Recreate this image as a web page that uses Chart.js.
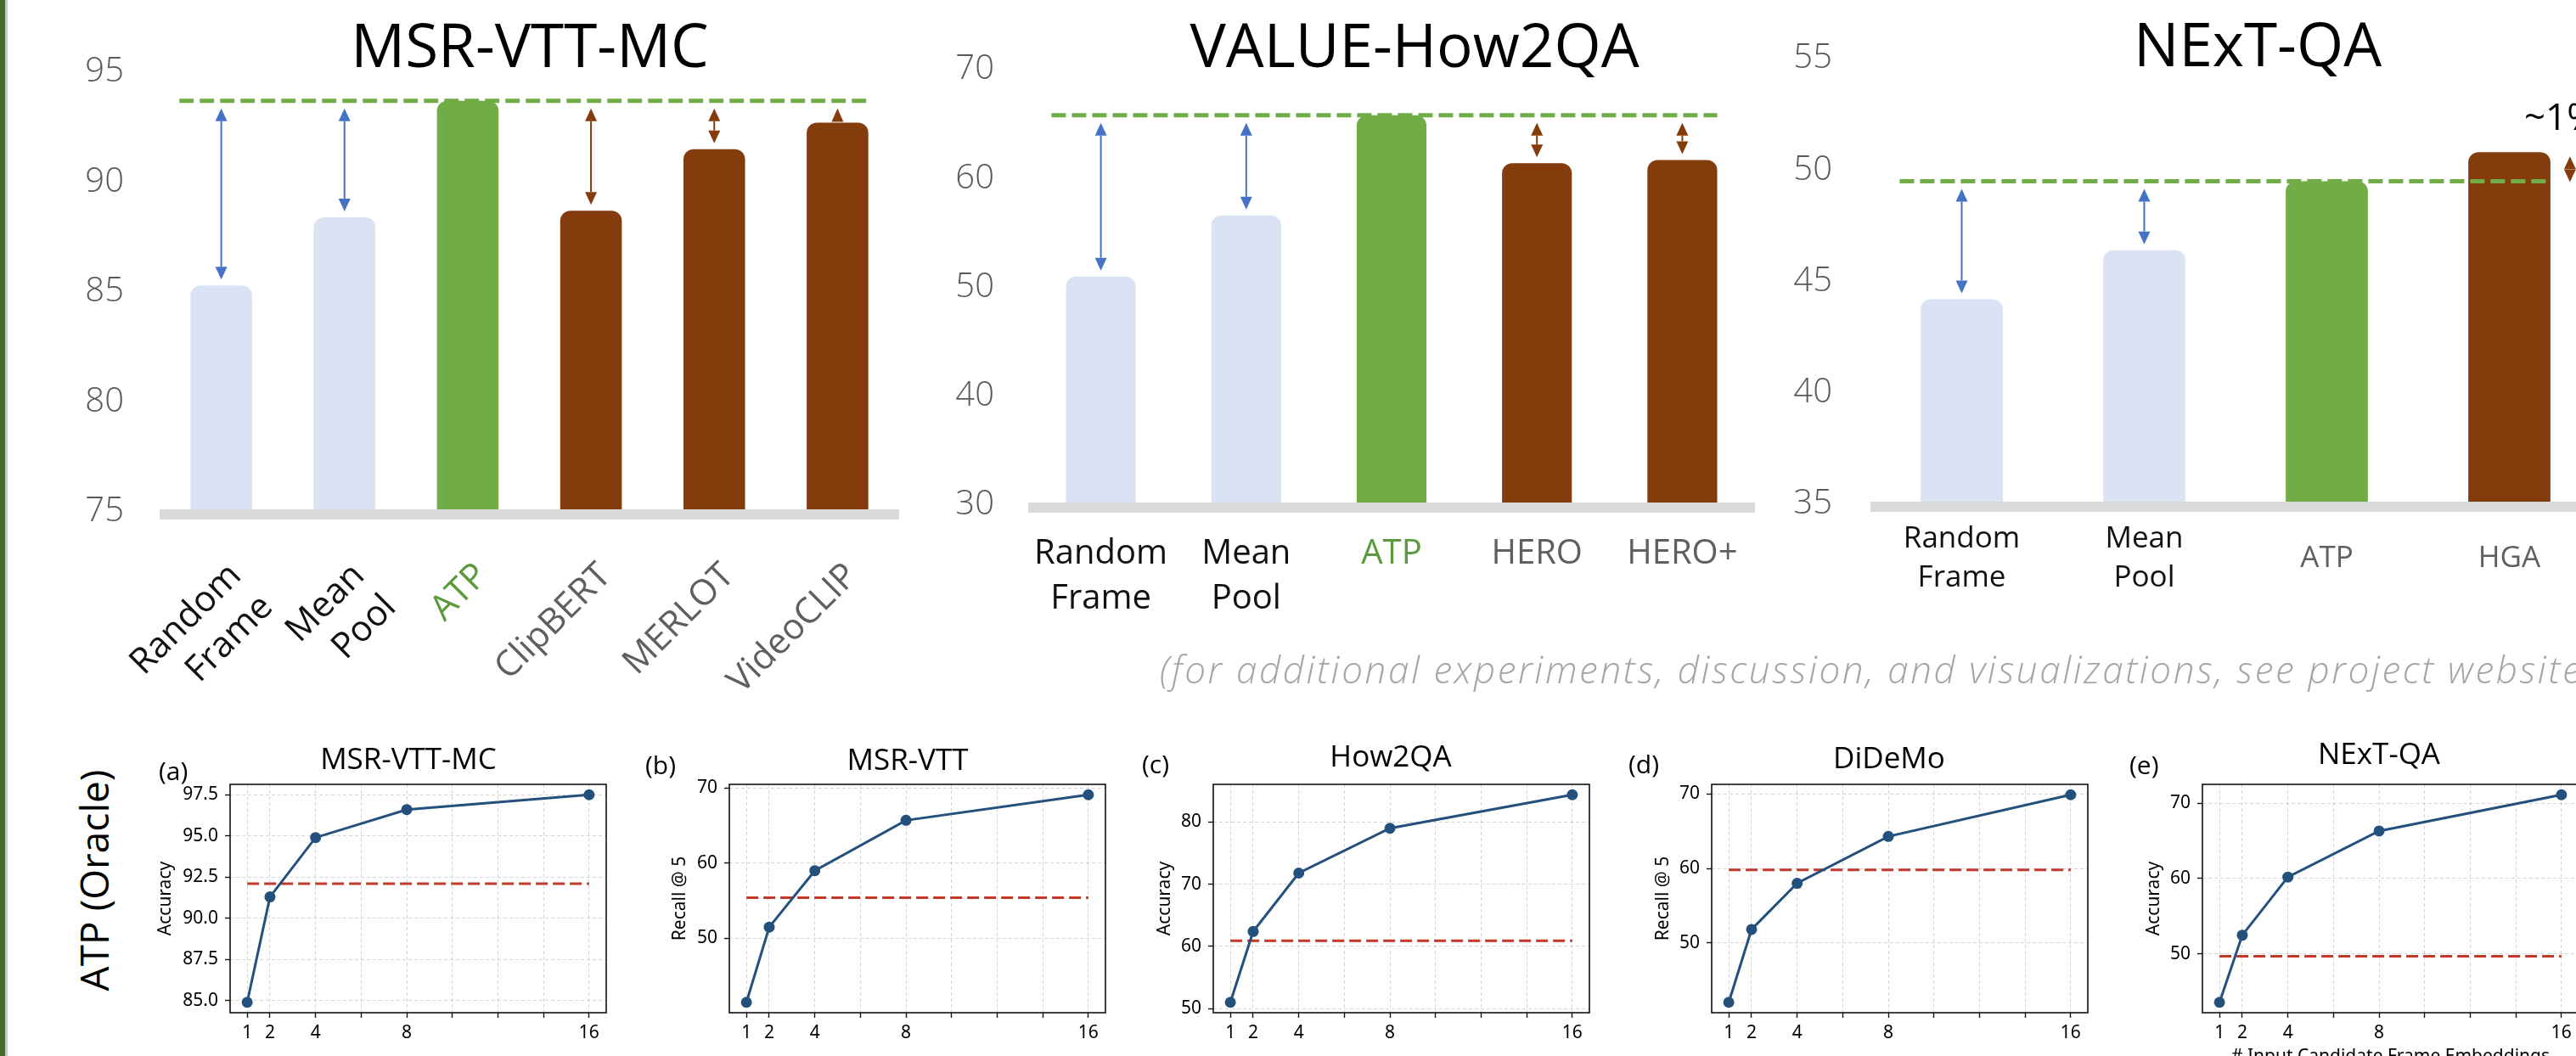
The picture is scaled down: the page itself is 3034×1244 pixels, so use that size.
<!DOCTYPE html>
<html>
<head>
<meta charset="utf-8">
<title>ATP - atemporal probe results</title>
<script src="https://cdn.jsdelivr.net/npm/chart.js@4.4.1/dist/chart.umd.min.js"></script>
<style>
    html, body { margin: 0; padding: 0; background: #fff; }
    body { position: relative; width: 3034px; height: 1244px; overflow: hidden; }
    canvas { position: absolute; }
    .txt { position: absolute; white-space: nowrap; line-height: 1; }
    .edge { position: absolute; left: 0; top: 0; width: 6px; height: 1244px; background: #46682f; }
    .edge2 { position: absolute; left: 6px; top: 0; width: 3px; height: 1244px; background: #c5cbc1; }
</style>
</head>
<body>
<div class="edge"></div><div class="edge2"></div>

<canvas id="barMsrMc" width="1100" height="820" style="left:0;top:0"></canvas>
<canvas id="barHow2qa" width="1000" height="760" style="left:1100px;top:0"></canvas>
<canvas id="barNextqa" width="1000" height="760" style="left:2100px;top:0"></canvas>

<canvas id="oracleA" width="563" height="378" style="left:171px;top:880px"></canvas>
<canvas id="oracleB" width="563" height="378" style="left:759px;top:880px"></canvas>
<canvas id="oracleC" width="563" height="378" style="left:1329px;top:880px"></canvas>
<canvas id="oracleD" width="563" height="378" style="left:1916px;top:880px"></canvas>
<canvas id="oracleE" width="563" height="378" style="left:2494px;top:880px"></canvas>

<script>
// ========================================
// DATA
// ========================================

// top row: downstream accuracy
const msrMcLabels = [['Random', 'Frame'], ['Mean', 'Pool'], 'ATP', 'ClipBERT', 'MERLOT', 'VideoCLIP'];
const msrMcGroups = ['baseline', 'baseline', 'ours', 'prior', 'prior', 'prior'];
const msrMcScores = [85.3, 88.4, 93.7, 88.7, 91.5, 92.7];
const msrMcTicks = [75, 80, 85, 90, 95];

const how2qaLabels = [['Random', 'Frame'], ['Mean', 'Pool'], 'ATP', 'HERO', 'HERO+'];
const how2qaGroups = ['baseline', 'baseline', 'ours', 'prior', 'prior'];
const how2qaScores = [51.0, 56.6, 65.8, 61.4, 61.7];
const how2qaTicks = [30, 40, 50, 60, 70];

const nextqaLabels = [['Random', 'Frame'], ['Mean', 'Pool'], 'ATP', 'HGA'];
const nextqaGroups = ['baseline', 'baseline', 'ours', 'prior'];
const nextqaScores = [44.2, 46.4, 49.5, 50.8];
const nextqaTicks = [35, 40, 45, 50, 55];

// bottom row: ATP (oracle) vs number of candidate frames
const frameCounts = [1, 2, 4, 8, 16];
const frameGrid = [1, 2, 4, 6, 8, 10, 12, 14, 16];

const oracleMsrMc = [84.9, 91.3, 94.9, 96.6, 97.5];
const oracleMsrMcRef = 92.1;
const oracleMsrMcTicks = [85, 87.5, 90, 92.5, 95, 97.5];

const oracleMsrVtt = [41.5, 51.5, 59.0, 65.7, 69.1];
const oracleMsrVttRef = 55.4;
const oracleMsrVttTicks = [50, 60, 70];

const oracleHow2qa = [51.0, 62.4, 71.8, 79.0, 84.4];
const oracleHow2qaRef = 60.9;
const oracleHow2qaTicks = [50, 60, 70, 80];

const oracleDidemo = [42.0, 51.8, 58.0, 64.3, 69.9];
const oracleDidemoRef = 59.8;
const oracleDidemoTicks = [50, 60, 70];

const oracleNextqa = [43.6, 52.5, 60.2, 66.3, 71.1];
const oracleNextqaRef = 49.7;
const oracleNextqaTicks = [50, 60, 70];

// ========================================
// STYLE
// ========================================

const BAR_FILL = { baseline: '#dae3f3', ours: '#70ad47', prior: '#843c0c' };
const ARROW = { baseline: '#4472c4', prior: '#843c0c' };
const LINE_BLUE = '#23507c';
const DASH_RED = '#c0392b';
const GRID = 'rgba(0,0,0,0.16)';
const SANS = "'Open Sans', sans-serif";
const SMALL = { family: "'Noto Sans', sans-serif", size: 21 };

// ========================================
// PLUGINS
// ========================================

function doubleArrow(ctx, x, yTop, yBot, color, opt) {
    const half = 7;
    let head = 15;
    const span = yBot - yTop;
    ctx.fillStyle = color;
    ctx.strokeStyle = color;
    ctx.lineWidth = 2;
    const tri = (tip, base) => {
        ctx.beginPath();
        ctx.moveTo(x, tip);
        ctx.lineTo(x - half, base);
        ctx.lineTo(x + half, base);
        ctx.closePath();
        ctx.fill();
    };
    if (span < head * 2) {
        if (opt.squeeze) {
            head = span / 2;
        } else {
            tri(yTop, opt.barTop);   // only room for the upward head
            return;
        }
    }
    ctx.beginPath();
    ctx.moveTo(x, yTop + head);
    ctx.lineTo(x, yBot - head);
    ctx.stroke();
    tri(yTop, yTop + head);
    tri(yBot, yBot - head);
}

// floor band, ATP reference line and gap arrows
const barDecor = {
    id: 'barDecor',
    afterDatasetsDraw(chart, args, o) {
        const { ctx, chartArea: a, scales: { y } } = chart;
        const bars = chart.getDatasetMeta(0).data;
        const values = chart.data.datasets[0].data;
        const atp = o.groups.indexOf('ours');
        const yRef = y.getPixelForValue(values[atp]);
        const cat = bars[1].x - bars[0].x;

        ctx.save();
        ctx.fillStyle = '#d9d9d9';
        ctx.fillRect(a.left, a.bottom - 3, a.right - a.left, 12);

        const last = bars[bars.length - 1];
        ctx.strokeStyle = '#70ad47';
        ctx.lineWidth = 5;
        ctx.setLineDash([17, 7]);
        ctx.beginPath();
        ctx.moveTo(bars[0].x - 0.34 * cat, yRef);
        ctx.lineTo(last.x + last.width / 2, yRef);
        ctx.stroke();
        ctx.setLineDash([]);

        bars.forEach((b, i) => {
            if (i === atp) return;
            const color = ARROW[o.groups[i]];
            if (values[i] > values[atp]) {
                // bar above ATP: small arrow beside it plus the gap label
                const ax = b.x + b.width / 2 + 23;
                doubleArrow(ctx, ax, b.y + 5, yRef + 1, color, { squeeze: true });
                ctx.fillStyle = '#000';
                ctx.font = '44px ' + SANS;
                ctx.textAlign = 'left';
                ctx.textBaseline = 'alphabetic';
                ctx.fillText('~' + Math.round(values[i] - values[atp]) + '%', ax - 54, b.y - 26);
                return;
            }
            doubleArrow(ctx, b.x, yRef + 9, b.y - 7, color, { barTop: b.y - 1 });
        });
        ctx.restore();
    }
};

// matplotlib style closed axes box
const frameBox = {
    id: 'frameBox',
    afterDraw(chart) {
        const { ctx, chartArea: a } = chart;
        ctx.save();
        ctx.strokeStyle = '#111';
        ctx.lineWidth = 1.6;
        ctx.strokeRect(a.left, a.top, a.right - a.left, a.bottom - a.top);
        ctx.restore();
    }
};

// ========================================
// BUILDERS
// ========================================

function barPanel(id, labels, groups, scores, ticks, lay) {
    const labelColor = i => {
        if (groups[i] === 'baseline') return '#111';
        if (groups[i] === 'ours') return lay.oursColor;
        return '#5f5f5f';
    };
    new Chart(document.getElementById(id), {
        type: 'bar',
        data: {
            labels: labels,
            datasets: [{
                data: scores,
                backgroundColor: groups.map(g => BAR_FILL[g]),
                borderRadius: { topLeft: 12, topRight: 12, bottomLeft: 0, bottomRight: 0 },
                borderSkipped: 'start',
                barPercentage: lay.barPct,
                categoryPercentage: 1
            }]
        },
        options: {
            responsive: false,
            animation: false,
            events: [],
            layout: { padding: { top: lay.top, right: lay.right, left: 0, bottom: 0 } },
            plugins: {
                legend: { display: false },
                tooltip: { enabled: false },
                barDecor: { groups: groups }
            },
            scales: {
                x: {
                    grid: { display: false, drawTicks: false },
                    border: { display: false },
                    afterFit: s => { s.height = lay.xh; },
                    ticks: {
                        autoSkip: false,
                        minRotation: lay.rot,
                        maxRotation: lay.rot,
                        padding: lay.labelPad,
                        labelOffset: lay.labelShift,
                        crossAlign: lay.cross,
                        color: c => labelColor(c.index),
                        font: { family: SANS, size: lay.labelSize, lineHeight: lay.labelLine }
                    }
                },
                y: {
                    min: ticks[0],
                    max: ticks[ticks.length - 1],
                    grid: { display: false, drawTicks: false },
                    border: { display: false },
                    afterBuildTicks: s => { s.ticks = ticks.map(v => ({ value: v })); },
                    afterFit: s => { s.width = lay.yw; },
                    ticks: {
                        padding: lay.tickPad,
                        color: '#595959',
                        font: { family: SANS, size: 40, weight: 300 }
                    }
                }
            }
        },
        plugins: [barDecor]
    });
}

function oraclePanel(id, scores, ref, ticks, yTitle, titlePad, digits, xTitle) {
    const lo = Math.min(...scores);
    const hi = Math.max(...scores);
    const margin = (hi - lo) * 0.05;
    const gridOpts = { color: GRID, lineWidth: 1, tickLength: 6, tickColor: '#111', tickWidth: 1.4 };
    new Chart(document.getElementById(id), {
        type: 'line',
        data: {
            datasets: [{
                data: frameCounts.map((f, i) => ({ x: f, y: scores[i] })),
                borderColor: LINE_BLUE,
                backgroundColor: LINE_BLUE,
                pointBackgroundColor: LINE_BLUE,
                pointBorderColor: LINE_BLUE,
                pointBorderWidth: 0,
                pointRadius: 6.5,
                borderWidth: 3,
                order: 0
            }, {
                data: [{ x: frameCounts[0], y: ref }, { x: frameCounts[frameCounts.length - 1], y: ref }],
                borderColor: DASH_RED,
                borderWidth: 3,
                borderDash: [14, 6],
                pointRadius: 0,
                order: 1
            }]
        },
        options: {
            responsive: false,
            animation: false,
            events: [],
            layout: { padding: { top: 44, right: 20, left: 0, bottom: 0 } },
            plugins: { legend: { display: false }, tooltip: { enabled: false } },
            scales: {
                x: {
                    type: 'linear',
                    min: 0.25,
                    max: 16.75,
                    afterBuildTicks: s => { s.ticks = frameGrid.map(v => ({ value: v })); },
                    afterFit: s => { s.height = 65; },
                    grid: gridOpts,
                    border: { display: false, dash: [4, 3] },
                    ticks: {
                        autoSkip: false,
                        maxRotation: 0,
                        padding: 5,
                        color: '#000',
                        font: SMALL,
                        callback: v => frameCounts.includes(v) ? String(v) : ''
                    },
                    title: {
                        display: !!xTitle,
                        text: xTitle || '',
                        color: '#000',
                        font: SMALL,
                        padding: { top: 0, bottom: 0 }
                    }
                },
                y: {
                    min: lo - margin,
                    max: hi + margin,
                    afterBuildTicks: s => { s.ticks = ticks.map(v => ({ value: v })); },
                    afterFit: s => { s.width = 100; },
                    grid: gridOpts,
                    border: { display: false, dash: [4, 3] },
                    ticks: {
                        padding: 8,
                        color: '#000',
                        font: SMALL,
                        callback: v => v.toFixed(digits)
                    },
                    title: {
                        display: true,
                        text: yTitle,
                        color: '#000',
                        font: SMALL,
                        padding: { top: titlePad, bottom: 0 }
                    }
                }
            }
        },
        plugins: [frameBox]
    });
}

// text placed by its baseline
function label(text, x, baseline, size, o = {}) {
    const d = document.createElement('div');
    d.className = 'txt';
    d.textContent = text;
    d.style.left = x + 'px';
    d.style.top = baseline + 'px';
    d.style.fontSize = size + 'px';
    d.style.fontFamily = o.family || SANS;
    d.style.color = o.color || '#000';
    if (o.weight) d.style.fontWeight = o.weight;
    if (o.italic) d.style.fontStyle = 'italic';
    if (o.spacing) d.style.letterSpacing = o.spacing + 'px';
    d.style.transform = 'translate(' + (o.center ? '-50%' : '0') + ', -0.888em)';
    document.body.appendChild(d);
}

// ========================================
// RENDER
// ========================================

barPanel('barMsrMc', msrMcLabels, msrMcGroups, msrMcScores, msrMcTicks,
    { top: 85, right: 41, yw: 188, xh: 217, tickPad: 42, barPct: 0.5, rot: 45, labelPad: 50, labelShift: 17,
      cross: 'near', labelSize: 42, labelLine: 1.25, oursColor: '#5b9a3a' });
barPanel('barHow2qa', how2qaLabels, how2qaGroups, how2qaScores, how2qaTicks,
    { top: 82, right: 33, yw: 111, xh: 165, tickPad: 40, barPct: 0.48, rot: 0, labelPad: 31, labelShift: 0,
      cross: 'near', labelSize: 40, labelLine: 1.32, oursColor: '#5b9a3a' });
barPanel('barNextqa', nextqaLabels, nextqaGroups, nextqaScores, nextqaTicks,
    { top: 58, right: 37, yw: 103, xh: 166, tickPad: 45, barPct: 0.45, rot: 0, labelPad: 41, labelShift: 0,
      cross: 'center', labelSize: 35, labelLine: 1.32, oursColor: '#5f5f5f' });

oraclePanel('oracleA', oracleMsrMc, oracleMsrMcRef, oracleMsrMcTicks, 'Accuracy', 11, 1);
oraclePanel('oracleB', oracleMsrVtt, oracleMsrVttRef, oracleMsrVttTicks, 'Recall @ 5', 29, 0);
oraclePanel('oracleC', oracleHow2qa, oracleHow2qaRef, oracleHow2qaTicks, 'Accuracy', 30, 0);
oraclePanel('oracleD', oracleDidemo, oracleDidemoRef, oracleDidemoTicks, 'Recall @ 5', 30, 0);
oraclePanel('oracleE', oracleNextqa, oracleNextqaRef, oracleNextqaTicks, 'Accuracy', 30, 0, '# Input Candidate Frame Embeddings');

// titles and notes
label('MSR-VTT-MC', 624, 79, 71, { center: true });
label('VALUE-How2QA', 1666, 79, 71, { center: true });
label('NExT-QA', 2659, 78, 71, { center: true });
label('(for additional experiments, discussion, and visualizations, see project website)', 1366, 805, 44,
    { italic: true, weight: 300, color: '#a5a5a5', spacing: 2.6 });

label('MSR-VTT-MC', 481, 906, 35, { center: true });
label('MSR-VTT', 1069, 907, 35, { center: true });
label('How2QA', 1638, 903, 35, { center: true });
label('DiDeMo', 2225, 905, 35, { center: true });
label('NExT-QA', 2802, 900, 35, { center: true });
label('(a)', 187, 920, 30);
label('(b)', 760, 913, 30);
label('(c)', 1345, 912, 30);
label('(d)', 1918, 912, 30);
label('(e)', 2508, 913, 30);

const side = document.createElement('div');
side.className = 'txt';
side.textContent = 'ATP (Oracle)';
side.style.cssText += 'left:110px;top:1037px;font-size:46px;font-family:' + SANS + ';color:#000;transform:translate(-50%,-50%) rotate(-90deg);';
document.body.appendChild(side);
</script>
</body>
</html>
